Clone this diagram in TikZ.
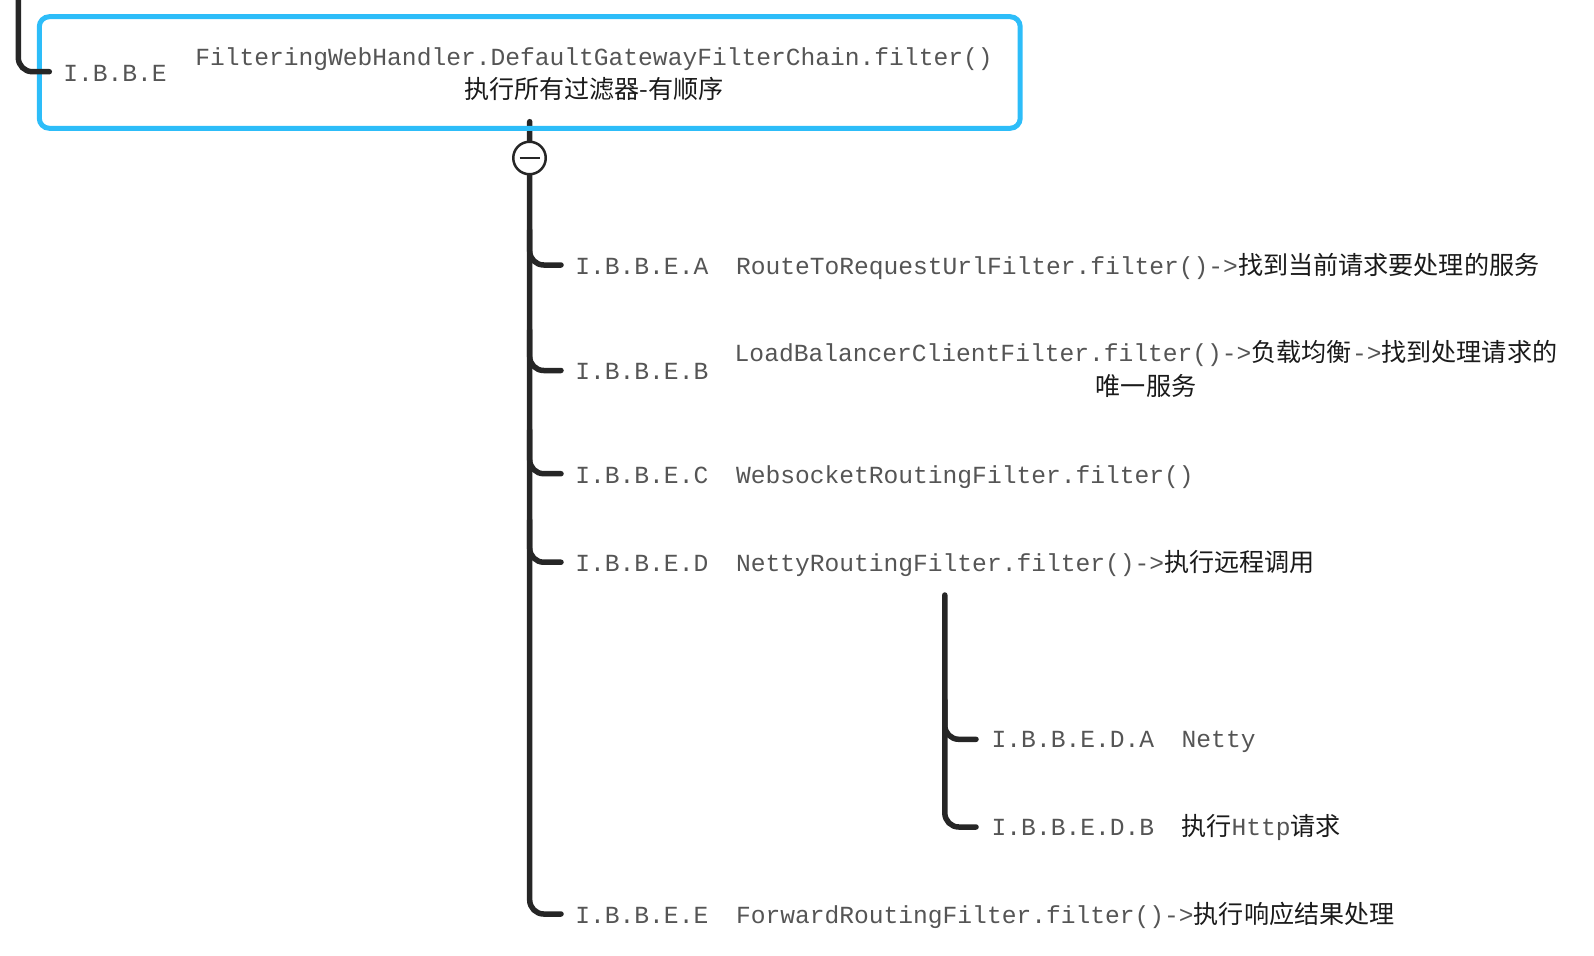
\documentclass[tikz,border=0pt]{standalone}
\usepackage{fontspec}
\newfontfamily\monof{Liberation Mono}
\newfontfamily\cjkf{Noto Sans CJK SC}
\definecolor{linec}{HTML}{262626}
\definecolor{boxc}{HTML}{2DBDF9}
\definecolor{monoc}{HTML}{555555}
\definecolor{cjkc}{HTML}{1A1A1A}
\newcommand\zh[1]{{\cjkf\fontsize{25.2}{33.5}\selectfont\color{cjkc}#1}}
\tikzset{
  conn/.style={draw=linec, line width=5.5bp, line cap=round, line join=round, rounded corners=14bp},
  lbl/.style={inner sep=0pt, outer sep=0pt, anchor=base west, text=monoc, font=\monof\fontsize{24.7}{33.5}\selectfont},
  twoline/.style={lbl, anchor=north, align=center},
  rootbox/.style={draw=boxc, line width=5bp, rounded corners=10bp, minimum width=980.9bp, minimum height=111.6bp, inner sep=0pt},
  toggle/.style={circle, draw=linec, fill=white, line width=2.5bp, minimum size=32.5bp, inner sep=0pt,
    path picture={\draw[linec, line width=2.6bp] ([xshift=-10bp]path picture bounding box.center) -- ([xshift=10bp]path picture bounding box.center);}}
}
\begin{document}
\begin{tikzpicture}[x=1bp, y=-1bp]
\useasboundingbox (0,0) rectangle (1594,955);
% coordinates for connectors
\coordinate (ptop) at (18.3,-12);
\coordinate (pend) at (49.3,71.7);
\coordinate (mtop) at (529.7,121.7);
\coordinate (bA) at (561,265);
\coordinate (bB) at (561,370.5);
\coordinate (bC) at (561,473.7);
\coordinate (bD) at (561,562.2);
\coordinate (bE) at (561,914);
\coordinate (tA) at (529.7,230);
\coordinate (tB) at (529.7,330);
\coordinate (tC) at (529.7,430);
\coordinate (tD) at (529.7,520);
\coordinate (dtop) at (944.8,595);
\coordinate (bDA) at (976,739.3);
\coordinate (bDB) at (976,827);
\coordinate (tDA) at (944.8,700);

% trunk lines
\draw[conn] (mtop) |- (bE);
\draw[conn] (tA) |- (bA);
\draw[conn] (tB) |- (bB);
\draw[conn] (tC) |- (bC);
\draw[conn] (tD) |- (bD);
\draw[conn] (dtop) |- (bDB);
\draw[conn] (tDA) |- (bDA);

% root box
\node[rootbox] (root) at (529.75,72.5) {};
\draw[conn] (ptop) |- (pend);
\node[toggle] (tog) at (529.5,158) {};

% root texts
\node[lbl] (rlab) at (63.3,81) {I.B.B.E};
\node[twoline] (rtxt) at (594,43.5) {\rule{0pt}{22bp}FilteringWebHandler.DefaultGatewayFilterChain.filter()\\\zh{执行所有过滤器-有顺序}};

% children
\node[lbl] (lA) at (575.4,274.5) {I.B.B.E.A};
\node[lbl] (xA) at (736,274.5) {RouteToRequestUrlFilter.filter()->\zh{找到当前请求要处理的服务}};

\node[lbl] (lB) at (575.4,379) {I.B.B.E.B};
\node[twoline] (xB) at (1146,339.7) {\rule{0pt}{22bp}LoadBalancerClientFilter.filter()->\zh{负载均衡}->\zh{找到处理请求的}\\\zh{唯一服务}};

\node[lbl] (lC) at (575.4,483) {I.B.B.E.C};
\node[lbl] (xC) at (736,483) {WebsocketRoutingFilter.filter()};

\node[lbl] (lD) at (575.4,571) {I.B.B.E.D};
\node[lbl] (xD) at (736,571) {NettyRoutingFilter.filter()->\zh{执行远程调用}};

\node[lbl] (lDA) at (991.7,747.7) {I.B.B.E.D.A};
\node[lbl] (xDA) at (1181.7,747.7) {Netty};

\node[lbl] (lDB) at (991.7,835) {I.B.B.E.D.B};
\node[lbl] (xDB) at (1181.3,835) {\zh{执行}Http\zh{请求}};

\node[lbl] (lE) at (575.4,923.3) {I.B.B.E.E};
\node[lbl] (xE) at (736,923.3) {ForwardRoutingFilter.filter()->\zh{执行响应结果处理}};
\end{tikzpicture}
\end{document}
